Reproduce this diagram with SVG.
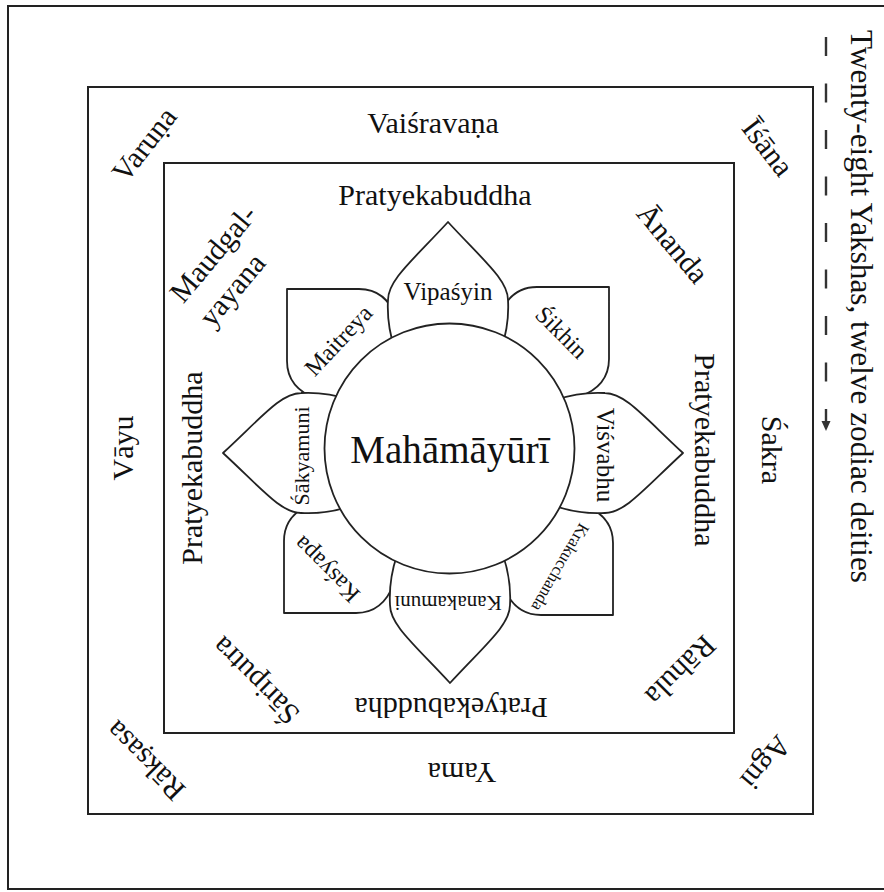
<svg xmlns="http://www.w3.org/2000/svg" width="884" height="892" viewBox="0 0 884 892">
<style>
.frame{fill:none;stroke:#222;stroke-width:2}
.shape{fill:#fff;stroke:#222;stroke-width:1.8;stroke-linejoin:round}
.t{font-family:"Liberation Serif","Times New Roman",serif;fill:#111;text-anchor:middle}
.f30{font-size:30px}
.f25{font-size:25px}
</style>
<defs>
<path id="cardinal" d="M0,0 C35,38 60,58 60,78 C61,95 59,110 53,128 L0,160 L-53,128 C-59,110 -61,95 -60,78 C-60,58 -35,38 0,0 Z"/>
<path id="diag" d="M0,0 L72,0 C88,0 102,8 110,30 L135,135 L30,110 C8,102 0,88 0,72 Z"/>
</defs>
<rect width="884" height="892" fill="#fff"/>

<g id="frames">
<path class="frame" d="M892,6 H8 V889 H892"/>
<rect class="frame" x="88" y="87" width="725" height="727"/>
<rect class="frame" x="164" y="163" width="570" height="570"/>
</g>

<g id="connectors">
<line x1="826" y1="37" x2="826" y2="424" stroke="#333" stroke-width="2.4" stroke-dasharray="19 27.5"/>
<polygon points="821.5,421 830.5,421 826,431" fill="#333"/>
</g>

<g id="petal-maitreya"><use href="#diag" class="shape" transform="translate(287,289)"/></g>
<g id="petal-sikhin"><use href="#diag" class="shape" transform="translate(609,287) rotate(90)"/></g>
<g id="petal-krakucchanda"><use href="#diag" class="shape" transform="translate(613,615) rotate(180)"/></g>
<g id="petal-kasyapa"><use href="#diag" class="shape" transform="translate(284,613) rotate(-90)"/></g>

<g id="petal-vipasyin"><use href="#cardinal" class="shape" transform="translate(448,222)"/></g>
<g id="petal-kanakamuni"><use href="#cardinal" class="shape" transform="translate(450,683) rotate(180)"/></g>
<g id="petal-sakyamuni"><use href="#cardinal" class="shape" transform="translate(223,453) rotate(-90)"/></g>
<g id="petal-visvabhu"><use href="#cardinal" class="shape" transform="translate(683,453) rotate(90)"/></g>

<g id="center">
<circle class="shape" cx="449.5" cy="448.5" r="125"/>
<text class="t" x="450" y="463" font-size="39">Mahāmāyūrī</text>
</g>

<g id="petal-labels">
<text class="t f25" x="448" y="300">Vipaśyin</text>
<text class="t" font-size="24" transform="translate(339,341) rotate(-47)" dy=".3em">Maitreya</text>
<text class="t" font-size="24" transform="translate(561,333) rotate(45)" dy=".3em">Śikhin</text>
<text class="t" font-size="22" transform="translate(309,456) rotate(-90)">Śākyamuni</text>
<text class="t f25" transform="translate(597,455) rotate(90)">Viśvabhu</text>
<text class="t" font-size="24" transform="translate(327,569) rotate(-135)" dy=".3em">Kaśyapa</text>
<text class="t" font-size="21" transform="translate(448,596) rotate(180)">Kanakamuni</text>
<text class="t" font-size="17" transform="translate(560,567) rotate(120)" dy=".3em">Krakucchanda</text>
</g>

<g id="inner-labels">
<text class="t f30" x="435" y="205">Pratyekabuddha</text>
<text class="t f30" transform="translate(202,468) rotate(-90)">Pratyekabuddha</text>
<text class="t f30" transform="translate(695,450) rotate(90)">Pratyekabuddha</text>
<text class="t f30" transform="translate(451,698) rotate(180)">Pratyekabuddha</text>
<g id="maudgalyayana">
<text class="t f30" transform="translate(215,255) rotate(-50)" dy=".25em">Maudgal-</text>
<text class="t f30" transform="translate(237,294) rotate(-50)" dy=".12em">yayana</text>
</g>
<text class="t f30" transform="translate(672,244) rotate(50)" dy=".3em">Ānanda</text>
<text class="t f30" transform="translate(256,680) rotate(-135)" dy=".3em">Śāriputra</text>
<text class="t f30" transform="translate(680,670) rotate(135)" dy=".3em">Rāhula</text>
</g>

<g id="outer-labels">
<text class="t f30" x="433" y="133">Vaiśravaṇa</text>
<text class="t f30" transform="translate(145,145) rotate(-52)" dy=".3em">Varuṇa</text>
<text class="t f30" transform="translate(767,148) rotate(52)" dy=".3em">Īśāna</text>
<text class="t f30" transform="translate(133,448) rotate(-90)">Vāyu</text>
<text class="t f30" transform="translate(762,450) rotate(90)">Śakra</text>
<text class="t f30" transform="translate(146,760) rotate(-135)" dy=".3em">Rākṣasa</text>
<text class="t f30" transform="translate(765,762) rotate(130)" dy=".3em">Agni</text>
<text class="t f30" transform="translate(462,763) rotate(180)">Yama</text>
</g>

<g id="title">
<text class="t" font-size="31" style="text-anchor:start" textLength="553" lengthAdjust="spacingAndGlyphs" transform="translate(851,30) rotate(90)">Twenty-eight Yakshas, twelve zodiac deities</text>
</g>
</svg>
